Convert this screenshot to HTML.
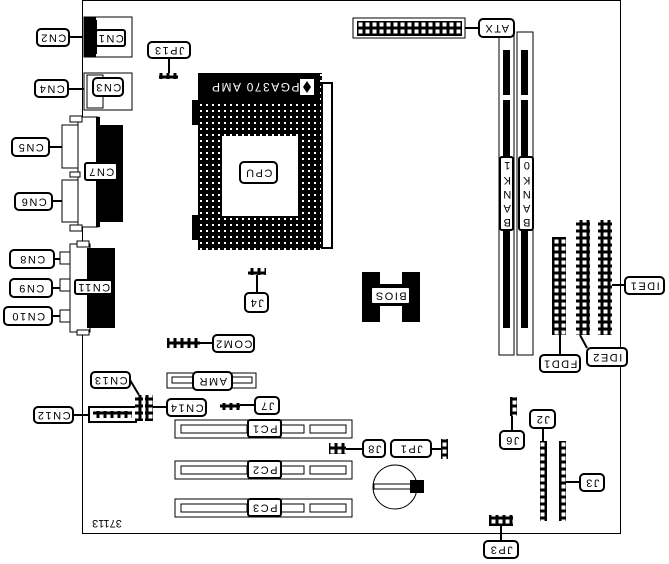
<!DOCTYPE html>
<html><head><meta charset="utf-8"><style>
html,body{margin:0;padding:0;background:#fff;}
svg{display:block;}
.l rect{fill:#fff;stroke:#000;stroke-width:2;}
text{font-family:"Liberation Sans",sans-serif;font-size:11px;letter-spacing:1.5px;fill:#000;text-anchor:middle;dominant-baseline:central;}
.c{stroke:#000;stroke-width:2;fill:none;}
.o{fill:#fff;stroke:#000;stroke-width:1;}
.b{fill:#000;}
</style></head><body>
<svg width="669" height="564" viewBox="0 0 669 564">
<defs>
<pattern id="dots" width="6" height="6" patternUnits="userSpaceOnUse">
<rect width="6" height="6" fill="#000"/><rect x="2" y="2" width="2" height="2" fill="#fff"/>
</pattern>
<pattern id="pins" width="7" height="7" patternUnits="userSpaceOnUse">
<rect width="7" height="7" fill="#000"/><rect x="1.5" y="1.5" width="4" height="4" fill="#fff"/>
</pattern>
<pattern id="spk" width="4" height="4" patternUnits="userSpaceOnUse">
<rect width="4" height="4" fill="#000"/><rect x="1" y="1" width="1" height="1" fill="#fff"/>
</pattern>
</defs>
<!-- board outline -->
<path d="M82.5 0 V533.5 H620.5 V0.5 H82.5" fill="none" stroke="#000" stroke-width="1"/>

<!-- CN1 -->
<rect class="o" x="84" y="17" width="48" height="40"/>
<rect class="b" x="84" y="17" width="12" height="40"/>
<rect class="b" x="87" y="20" width="10" height="34" fill="#fff"/>
<!-- CN3 -->
<rect class="o" x="84" y="73" width="48" height="37"/>
<rect class="o" x="87" y="75" width="16" height="33"/>
<!-- CN7 -->
<rect class="o" x="62" y="125" width="20" height="43"/>
<rect class="o" x="62" y="180" width="20" height="42"/>
<rect class="o" x="78" y="117" width="20" height="110"/>
<rect class="o" x="70" y="116" width="12" height="6"/>
<rect class="o" x="70" y="225" width="12" height="6"/>
<rect class="o" x="70" y="172" width="10" height="5"/>
<rect class="b" x="96" y="125" width="27" height="97"/>
<rect class="b" x="96" y="117" width="4" height="110"/>
<!-- CN11 -->
<rect class="o" x="70" y="244" width="20" height="88"/>
<rect class="o" x="77" y="241" width="12" height="6"/>
<rect class="o" x="77" y="330" width="12" height="5"/>
<rect class="b" x="87" y="248" width="28" height="80"/>
<rect class="o" x="60" y="252" width="10" height="12"/>
<rect class="o" x="60" y="279" width="10" height="12"/>
<rect class="o" x="60" y="310" width="10" height="12"/>
<!-- CN12 -->
<rect x="89" y="407" width="47" height="15" fill="#fff" stroke="#000" stroke-width="2"/>
<rect x="93" y="411" width="39" height="7" fill="url(#pins)"/>
<!-- CN13/CN14 pins -->
<rect x="135" y="395" width="8" height="26" fill="url(#pins)"/>
<rect x="145" y="395" width="8" height="26" fill="url(#pins)"/>
<!-- JP13 -->
<rect x="159" y="73" width="19" height="6" fill="url(#pins)"/>
<!-- CPU socket -->
<rect x="198" y="73" width="124" height="177" fill="url(#dots)"/>
<rect class="b" x="198" y="73" width="122" height="28"/>
<rect x="222" y="136" width="76" height="80" fill="#fff"/>
<rect x="322" y="83" width="10" height="165" fill="#fff" stroke="#000" stroke-width="2"/>
<rect class="b" x="192" y="100" width="6" height="25"/>
<rect class="b" x="192" y="215" width="6" height="25"/>
<rect x="300" y="79" width="14" height="16" fill="#fff"/>
<path d="M307 81 l4 6 l-4 6 l-4 -6z" fill="#000"/>
<text x="255" y="87" transform="rotate(180 255 87)" style="fill:#fff;font-size:12px">PGA370 AMP</text>
<!-- J4 -->
<rect x="248" y="268" width="18" height="7" fill="url(#pins)"/>
<!-- BIOS -->
<rect class="b" x="362" y="272" width="18" height="50"/>
<rect class="b" x="402" y="272" width="18" height="50"/>
<rect class="b" x="378" y="284" width="26" height="22"/>
<!-- COM2 -->
<rect x="167" y="338" width="33" height="10" fill="url(#pins)"/>
<!-- AMR -->
<rect class="o" x="167" y="373" width="89" height="15"/>
<rect class="o" x="172" y="377" width="80" height="6"/>
<!-- J7 -->
<rect x="220" y="403" width="20" height="7" fill="url(#pins)"/>
<!-- PCI slots -->
<g>
<rect class="o" x="175" y="420" width="177" height="18"/><rect class="o" x="181" y="425" width="66" height="8"/><rect class="o" x="310" y="425" width="36" height="8"/><rect class="o" x="280" y="425" width="24" height="8"/>
<rect class="o" x="175" y="461" width="177" height="18"/><rect class="o" x="181" y="466" width="66" height="8"/><rect class="o" x="310" y="466" width="36" height="8"/><rect class="o" x="280" y="466" width="24" height="8"/>
<rect class="o" x="175" y="499" width="177" height="18"/><rect class="o" x="181" y="504" width="66" height="8"/><rect class="o" x="310" y="504" width="36" height="8"/><rect class="o" x="280" y="504" width="24" height="8"/>
</g>
<!-- J8, JP1 -->
<rect x="329" y="443" width="17" height="11" fill="url(#pins)"/>
<rect x="441" y="439" width="7" height="20" fill="url(#pins)"/>
<!-- battery -->
<circle cx="395" cy="487" r="22" fill="#fff" stroke="#000" stroke-width="1"/>
<rect class="o" x="374" y="484" width="40" height="5"/>
<rect class="b" x="410" y="480" width="14" height="13"/>
<text x="107" y="523" transform="rotate(180 107 523)" style="letter-spacing:0">37113</text>
<!-- ATX -->
<rect class="o" x="353" y="18" width="112" height="20"/>
<rect x="357" y="21" width="105" height="15" fill="url(#pins)" opacity="1"/>
<!-- DIMMs -->
<rect class="o" x="499" y="32" width="15" height="323"/>
<rect class="o" x="517" y="32" width="16" height="323"/>
<rect class="b" x="503" y="50" width="7" height="45"/><rect class="b" x="503" y="100" width="7" height="60"/><rect class="b" x="503" y="230" width="7" height="98"/>
<rect class="b" x="521" y="50" width="7" height="45"/><rect class="b" x="521" y="100" width="7" height="60"/><rect class="b" x="521" y="230" width="7" height="98"/>
<!-- FDD/IDE -->
<rect x="552" y="237" width="14" height="98" fill="url(#pins)"/>
<rect x="576" y="220" width="14" height="115" fill="url(#pins)"/>
<rect x="598" y="220" width="14" height="115" fill="url(#pins)"/>
<!-- J6, J2, J3, JP3 -->
<rect x="510" y="397" width="7" height="19" fill="url(#pins)"/>
<rect x="540" y="441" width="7" height="80" fill="url(#pins)"/>
<rect x="559" y="441" width="7" height="80" fill="url(#pins)"/>
<rect x="489" y="515" width="24" height="11" fill="url(#pins)"/>

<!-- connectors -->
<path class="c" d="M69 37 H82 M68 89 H84 M49 147 H62 M52 201 H62 M54 259 H60 M52 288 H60 M52 316 H60 M73 415 H89 M130 380 L139 395 M167 407 H153 M169 58 V73 M213 343 H200 M257 294 V275 M255 405 H240 M363 449 H346 M431 449 H441 M479 28 H465 M625 285 H612 M560 355 V335 M587 348 L580 335 M512 431 V416 M543 428 V441 M580 482 H566 M501 541 V526"/>

<!-- labels -->
<g class="l">
<rect x="37" y="29" width="32" height="17" rx="4"/><text x="53" y="37.5" transform="rotate(180 53 37.5)">CN2</text>
<rect x="96" y="30" width="29" height="16" rx="2"/><text x="110.5" y="38" transform="rotate(180 110.5 38)">CN1</text>
<rect x="148" y="42" width="42" height="16" rx="4"/><text x="169" y="50" transform="rotate(180 169 50)">JP13</text>
<rect x="35" y="80" width="33" height="17" rx="4"/><text x="51.5" y="88.5" transform="rotate(180 51.5 88.5)">CN4</text>
<rect x="93" y="78" width="30" height="18" rx="4"/><text x="108" y="87" transform="rotate(180 108 87)">CN3</text>
<rect x="12" y="138" width="37" height="18" rx="4"/><text x="30.5" y="147" transform="rotate(180 30.5 147)">CN5</text>
<rect x="85" y="163" width="32" height="17" rx="2"/><text x="101" y="171.5" transform="rotate(180 101 171.5)">CN7</text>
<rect x="15" y="193" width="37" height="17" rx="4"/><text x="33.5" y="201.5" transform="rotate(180 33.5 201.5)">CN6</text>
<rect x="240" y="162" width="37" height="21" rx="4"/><text x="258.5" y="172.5" transform="rotate(180 258.5 172.5)">CPU</text>
<rect x="10" y="250" width="44" height="18" rx="4"/><text x="32" y="259" transform="rotate(180 32 259)">CN8</text>
<rect x="10" y="279" width="42" height="18" rx="4"/><text x="31" y="288" transform="rotate(180 31 288)">CN9</text>
<rect x="75" y="280" width="37" height="14" rx="2"/><text x="93.5" y="287" transform="rotate(180 93.5 287)">CN11</text>
<rect x="4" y="307" width="48" height="18" rx="4"/><text x="28" y="316" transform="rotate(180 28 316)">CN10</text>
<rect x="245" y="293" width="23" height="19" rx="4"/><text x="256.5" y="302.5" transform="rotate(180 256.5 302.5)">J4</text>
<rect x="371" y="287" width="39" height="17" rx="2"/><text x="390.5" y="295.5" transform="rotate(180 390.5 295.5)">BIOS</text>
<rect x="213" y="335" width="41" height="17" rx="4"/><text x="233.5" y="343.5" transform="rotate(180 233.5 343.5)">COM2</text>
<rect x="193" y="372" width="39" height="18" rx="4"/><text x="212.5" y="381" transform="rotate(180 212.5 381)">AMR</text>
<rect x="91" y="372" width="39" height="16" rx="4"/><text x="110.5" y="380" transform="rotate(180 110.5 380)">CN13</text>
<rect x="34" y="407" width="39" height="16" rx="4"/><text x="53.5" y="415" transform="rotate(180 53.5 415)">CN12</text>
<rect x="167" y="399" width="39" height="17" rx="4"/><text x="186.5" y="407.5" transform="rotate(180 186.5 407.5)">CN14</text>
<rect x="255" y="397" width="24" height="17" rx="4"/><text x="267" y="405.5" transform="rotate(180 267 405.5)">J7</text>
<rect x="248" y="420" width="33" height="17" rx="2"/><text x="264.5" y="428.5" transform="rotate(180 264.5 428.5)">PC1</text>
<rect x="248" y="461" width="33" height="17" rx="2"/><text x="264.5" y="469.5" transform="rotate(180 264.5 469.5)">PC2</text>
<rect x="248" y="499" width="33" height="17" rx="2"/><text x="264.5" y="507.5" transform="rotate(180 264.5 507.5)">PC3</text>
<rect x="363" y="440" width="22" height="17" rx="4"/><text x="374" y="448.5" transform="rotate(180 374 448.5)">J8</text>
<rect x="391" y="440" width="40" height="17" rx="4"/><text x="411" y="448.5" transform="rotate(180 411 448.5)">JP1</text>
<rect x="479" y="19" width="35" height="18" rx="4"/><text x="496.5" y="28" transform="rotate(180 496.5 28)">ATX</text>
<rect x="500" y="157" width="13" height="73" rx="2"/>
<rect x="519" y="157" width="14" height="73" rx="2"/>
<rect x="540" y="355" width="40" height="17" rx="4"/><text x="560" y="363.5" transform="rotate(180 560 363.5)">FDD1</text>
<rect x="587" y="348" width="40" height="18" rx="4"/><text x="607" y="357" transform="rotate(180 607 357)">IDE2</text>
<rect x="625" y="277" width="39" height="17" rx="4"/><text x="644.5" y="285.5" transform="rotate(180 644.5 285.5)">IDE1</text>
<rect x="500" y="431" width="24" height="18" rx="4"/><text x="512" y="440" transform="rotate(180 512 440)">J6</text>
<rect x="530" y="410" width="25" height="18" rx="4"/><text x="542.5" y="419" transform="rotate(180 542.5 419)">J2</text>
<rect x="580" y="474" width="24" height="17" rx="4"/><text x="592" y="482.5" transform="rotate(180 592 482.5)">J3</text>
<rect x="484" y="541" width="34" height="17" rx="4"/><text x="501" y="549.5" transform="rotate(180 501 549.5)">JP3</text>
</g>
<!-- BANK vertical letters -->
<g style="font-size:10px">
<text x="506.5" y="222" transform="rotate(180 506.5 222)">B</text>
<text x="506.5" y="208" transform="rotate(180 506.5 208)">A</text>
<text x="506.5" y="194" transform="rotate(180 506.5 194)">N</text>
<text x="506.5" y="180" transform="rotate(180 506.5 180)">K</text>
<text x="506.5" y="165" transform="rotate(180 506.5 165)">1</text>
<text x="526" y="222" transform="rotate(180 526 222)">B</text>
<text x="526" y="208" transform="rotate(180 526 208)">A</text>
<text x="526" y="194" transform="rotate(180 526 194)">N</text>
<text x="526" y="180" transform="rotate(180 526 180)">K</text>
<text x="526" y="165" transform="rotate(180 526 165)">0</text>
</g>
</svg>
</body></html>
